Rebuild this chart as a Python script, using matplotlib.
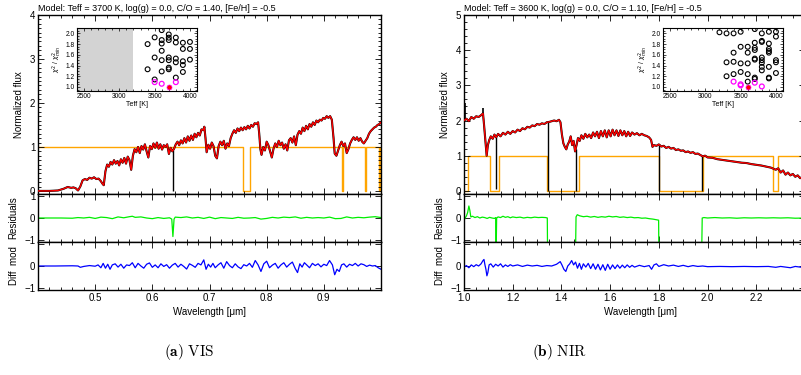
import numpy as np
import matplotlib
matplotlib.use("Agg")
import matplotlib.pyplot as plt
from matplotlib.ticker import MultipleLocator, FuncFormatter

plt.rcParams['font.family'] = ['Liberation Sans', 'DejaVu Sans']
plt.rcParams['mathtext.fontset'] = 'dejavusans'

# ---------------- VIS data ----------------
vis_title = "Model: Teff = 3700 K, log(g) = 0.0, C/O = 1.40, [Fe/H] = -0.5"
vis_wave = [0.400, 0.420, 0.435, 0.445, 0.452, 0.458, 0.462, 0.466, 0.470, 0.474,
            0.478, 0.482, 0.486, 0.490, 0.494, 0.498, 0.502, 0.506, 0.510, 0.513,
            0.515, 0.518, 0.521, 0.524, 0.527, 0.530, 0.533, 0.536, 0.539, 0.542,
            0.545, 0.548, 0.551, 0.554, 0.557, 0.560, 0.563, 0.566, 0.569, 0.572,
            0.575, 0.578, 0.581, 0.584, 0.587, 0.590, 0.593, 0.596, 0.599, 0.602,
            0.605, 0.608, 0.611, 0.614, 0.617, 0.620, 0.623, 0.626, 0.629, 0.632,
            0.635, 0.638, 0.641, 0.644, 0.647, 0.650, 0.653, 0.656, 0.659, 0.662,
            0.665, 0.668, 0.671, 0.674, 0.677, 0.680, 0.683, 0.686, 0.689, 0.691,
            0.693, 0.695, 0.698, 0.701, 0.704, 0.707, 0.710, 0.713, 0.716, 0.719,
            0.722, 0.725, 0.728, 0.731, 0.734, 0.737, 0.740, 0.743, 0.746, 0.749,
            0.752, 0.755, 0.758, 0.761, 0.764, 0.767, 0.770, 0.773, 0.776, 0.779,
            0.782, 0.785, 0.787, 0.789, 0.791, 0.794, 0.797, 0.800, 0.803, 0.806,
            0.809, 0.812, 0.815, 0.818, 0.821, 0.824, 0.827, 0.830, 0.833, 0.836,
            0.839, 0.842, 0.845, 0.848, 0.851, 0.854, 0.857, 0.860, 0.863, 0.866,
            0.869, 0.872, 0.875, 0.878, 0.881, 0.884, 0.887, 0.890, 0.893, 0.896,
            0.899, 0.902, 0.905, 0.908, 0.911, 0.914, 0.917, 0.919, 0.922, 0.925,
            0.928, 0.931, 0.934, 0.937, 0.940, 0.943, 0.946, 0.949, 0.952, 0.955,
            0.958, 0.961, 0.964, 0.967, 0.970, 0.973, 0.976, 0.979, 0.982, 0.985,
            0.988, 0.991, 0.994, 0.997, 1.000]
vis_model = [0.00, 0.00, 0.01, 0.05, 0.09, 0.07, 0.08, 0.06, 0.01, 0.10,
             0.24, 0.27, 0.25, 0.30, 0.28, 0.31, 0.27, 0.28, 0.22, 0.16,
             0.13, 0.45, 0.60, 0.55, 0.66, 0.60, 0.70, 0.62, 0.68, 0.58,
             0.72, 0.64, 0.75, 0.62, 0.78, 0.70, 0.48, 0.80, 0.95, 0.88,
             1.00, 0.86, 1.02, 0.94, 1.06, 0.90, 0.76, 1.02, 0.95, 1.08,
             0.98, 1.10, 0.96, 1.06, 0.94, 1.04, 1.00, 1.06, 0.84, 0.98,
             0.90, 0.96, 1.06, 1.12, 1.04, 1.15, 1.08, 1.20, 1.10, 1.24,
             1.14, 1.26, 1.16, 1.30, 1.22, 1.32, 1.26, 1.40, 1.38, 1.46,
             1.20, 0.88, 1.05, 0.96, 1.10, 1.02, 0.80, 0.74, 1.02, 1.12,
             1.04, 1.14, 0.96, 1.08, 1.02, 1.20, 1.30, 1.38, 1.32, 1.42,
             1.36, 1.44, 1.38, 1.45, 1.40, 1.48, 1.42, 1.50, 1.46, 1.54,
             1.52, 1.56, 1.30, 0.95, 0.82, 1.00, 0.92, 1.12, 1.04, 0.90,
             0.76, 0.96, 1.08, 1.00, 1.14, 1.04, 1.10, 0.96, 1.06, 0.92,
             1.15, 1.20, 1.10, 1.24, 1.04, 1.28, 1.36, 1.30, 1.44, 1.36,
             1.48, 1.40, 1.52, 1.46, 1.56, 1.50, 1.60, 1.56, 1.62, 1.60,
             1.66, 1.64, 1.70, 1.66, 1.70, 1.62, 1.20, 0.85, 0.80, 0.92,
             1.04, 1.12, 1.02, 1.08, 0.86, 0.95, 1.08, 1.16, 1.22, 1.16,
             1.22, 1.14, 1.20, 1.12, 1.08, 1.14, 1.20, 1.30, 1.36, 1.40,
             1.44, 1.46, 1.50, 1.52, 1.56]
vis_gap_wave = [0.636]
vis_mask_edges = [0.400, 0.759, 0.770, 0.932, 0.934, 0.972, 0.974, 0.996, 0.998, 1.000]
vis_mask_vals = [1, 0, 1, 0, 1, 0, 1, 0, 1, 1]

vis_res_wave = [0.40, 0.42, 0.44, 0.46, 0.47, 0.48, 0.49, 0.50, 0.51, 0.52,
                0.53, 0.54, 0.55, 0.56, 0.565, 0.57, 0.58, 0.59, 0.60, 0.61,
                0.62, 0.63, 0.634, 0.636, 0.638, 0.64, 0.65, 0.66, 0.67, 0.68,
                0.69, 0.70, 0.71, 0.72, 0.73, 0.74, 0.75, 0.76, 0.77, 0.78,
                0.79, 0.80, 0.81, 0.82, 0.83, 0.84, 0.85, 0.86, 0.87, 0.88,
                0.89, 0.90, 0.91, 0.92, 0.93, 0.94, 0.95, 0.96, 0.97, 0.98,
                0.99, 1.00]
vis_res = [0.00, 0.00, 0.00, -0.01, 0.02, 0.00, 0.03, -0.02, 0.04, 0.02,
           -0.03, 0.05, 0.01, 0.06, 0.08, 0.03, 0.05, 0.00, -0.03, 0.02,
           -0.02, 0.01, -0.05, -0.85, -0.05, 0.04, 0.02, 0.05, 0.00, 0.03,
           -0.02, 0.04, -0.03, 0.02, 0.00, -0.02, 0.03, -0.01, 0.00, 0.02,
           -0.05, -0.02, 0.03, 0.00, 0.04, 0.02, 0.05, -0.01, 0.03, 0.00,
           0.02, 0.00, 0.04, -0.03, -0.02, 0.05, 0.00, 0.03, 0.01, 0.04,
           0.06, 0.02]

vis_diff_wave = [0.400, 0.430, 0.460, 0.470, 0.474, 0.480, 0.490, 0.500, 0.505, 0.510,
                 0.514, 0.518, 0.522, 0.526, 0.530, 0.535, 0.540, 0.545, 0.550, 0.555,
                 0.560, 0.565, 0.570, 0.575, 0.580, 0.585, 0.590, 0.595, 0.600, 0.605,
                 0.610, 0.615, 0.620, 0.625, 0.630, 0.635, 0.640, 0.645, 0.650, 0.655,
                 0.660, 0.665, 0.670, 0.675, 0.680, 0.685, 0.690, 0.694, 0.698, 0.702,
                 0.706, 0.710, 0.715, 0.720, 0.725, 0.730, 0.735, 0.740, 0.745, 0.750,
                 0.755, 0.760, 0.765, 0.770, 0.775, 0.780, 0.785, 0.790, 0.795, 0.800,
                 0.805, 0.810, 0.815, 0.820, 0.825, 0.830, 0.835, 0.840, 0.845, 0.850,
                 0.854, 0.858, 0.862, 0.866, 0.870, 0.875, 0.880, 0.885, 0.890, 0.895,
                 0.900, 0.905, 0.910, 0.915, 0.919, 0.923, 0.927, 0.931, 0.935, 0.940,
                 0.945, 0.950, 0.955, 0.960, 0.965, 0.970, 0.975, 0.980, 0.985, 0.990,
                 0.995, 1.000]
vis_diff = [0.00, 0.00, 0.01, 0.00, -0.06, -0.02, 0.02, -0.01, 0.05, -0.08,
            0.12, -0.10, 0.08, -0.15, 0.05, 0.10, -0.05, 0.08, -0.10, 0.05,
            0.02, 0.15, -0.08, 0.12, 0.00, -0.10, 0.08, 0.14, -0.06, 0.05,
            -0.08, 0.10, -0.02, 0.06, -0.10, 0.04, 0.12, -0.05, 0.08, -0.02,
            -0.14, 0.10, 0.03, -0.06, 0.12, 0.05, 0.28, -0.15, 0.08, -0.05,
            0.12, -0.08, 0.05, 0.15, -0.10, 0.20, 0.02, -0.08, 0.10, -0.04,
            -0.12, 0.06, 0.00, 0.12, -0.06, 0.25, 0.05, -0.25, 0.10, 0.22,
            -0.08, 0.04, 0.12, -0.10, 0.05, 0.15, -0.05, 0.08, 0.18, -0.12,
            -0.30, 0.10, -0.05, 0.15, 0.05, -0.08, 0.12, 0.02, 0.10, -0.04,
            0.08, 0.02, 0.25, 0.05, -0.40, -0.15, -0.25, 0.05, 0.10, -0.05,
            0.08, 0.02, 0.12, 0.00, 0.10, 0.06, -0.02, 0.04, 0.00, 0.02,
            -0.08, -0.15]

# chi2 grid of the VIS fit
vis_grid_teff = [3400, 3400, 3500, 3500, 3500, 3600, 3600, 3600, 3600, 3600, 3600,
                 3700, 3700, 3700, 3700, 3700, 3700, 3700, 3800, 3800, 3800, 3800, 3800,
                 3900, 3900, 3900, 3900, 3900, 4000, 4000, 4000]
vis_grid_chi = [1.80, 1.33, 1.925, 1.55, 1.14, 2.06, 1.875, 1.81, 1.675, 1.50, 1.29,
                1.98, 1.92, 1.875, 1.55, 1.50, 1.36, 1.33, 1.92, 1.83, 1.53, 1.46, 1.175,
                1.825, 1.71, 1.48, 1.41, 1.28, 1.84, 1.71, 1.51]
vis_good_teff = [3500, 3600, 3800]
vis_good_chi = [1.09, 1.06, 1.09]
vis_best = (3700, 1.00)
vis_shade_max = 3200

# ---------------- NIR data ----------------
nir_title = "Model: Teff = 3600 K, log(g) = 0.0, C/O = 1.10, [Fe/H] = -0.5"
nir_wave = [1.000, 1.010, 1.020, 1.030, 1.040, 1.050, 1.060, 1.070, 1.078, 1.082,
            1.088, 1.093, 1.098, 1.104, 1.110, 1.118, 1.125, 1.132, 1.140, 1.150,
            1.160, 1.170, 1.180, 1.190, 1.200, 1.210, 1.220, 1.230, 1.240, 1.250,
            1.260, 1.270, 1.280, 1.290, 1.300, 1.310, 1.320, 1.330, 1.340, 1.350,
            1.360, 1.370, 1.380, 1.390, 1.396, 1.402, 1.408, 1.414, 1.420, 1.426,
            1.432, 1.438, 1.444, 1.450, 1.456, 1.462, 1.468, 1.475, 1.482, 1.490,
            1.498, 1.506, 1.514, 1.522, 1.530, 1.538, 1.546, 1.554, 1.562, 1.570,
            1.578, 1.586, 1.594, 1.602, 1.610, 1.618, 1.626, 1.634, 1.642, 1.650,
            1.658, 1.666, 1.674, 1.682, 1.690, 1.700, 1.710, 1.720, 1.730, 1.740,
            1.750, 1.760, 1.768, 1.774, 1.780, 1.790, 1.800, 1.810, 1.820, 1.830,
            1.840, 1.850, 1.860, 1.870, 1.880, 1.890, 1.900, 1.910, 1.920, 1.930,
            1.940, 1.950, 1.960, 1.970, 1.980, 1.990, 2.000, 2.020, 2.040, 2.060,
            2.080, 2.100, 2.120, 2.140, 2.160, 2.180, 2.200, 2.220, 2.240, 2.260,
            2.280, 2.290, 2.300, 2.310, 2.320, 2.330, 2.340, 2.350, 2.360, 2.370,
            2.380, 2.390, 2.400]
nir_model = [2.00, 2.05, 1.98, 2.10, 2.05, 2.12, 2.10, 2.15, 2.20, 1.90,
             1.40, 1.00, 1.30, 1.45, 1.55, 1.48, 1.60, 1.52, 1.62, 1.55,
             1.65, 1.60, 1.68, 1.62, 1.70, 1.66, 1.74, 1.70, 1.78, 1.75,
             1.82, 1.80, 1.86, 1.84, 1.90, 1.88, 1.92, 1.90, 1.95, 1.96,
             1.98, 2.00, 1.98, 2.02, 1.95, 1.60, 1.35, 1.25, 1.18, 1.32,
             1.40, 1.55, 1.30, 1.42, 1.12, 1.30, 1.50, 1.42, 1.58, 1.48,
             1.62, 1.52, 1.60, 1.50, 1.66, 1.55, 1.68, 1.50, 1.70, 1.55,
             1.72, 1.52, 1.72, 1.55, 1.74, 1.58, 1.72, 1.56, 1.72, 1.58,
             1.70, 1.55, 1.68, 1.56, 1.66, 1.60, 1.64, 1.58, 1.62, 1.58,
             1.56, 1.52, 1.45, 1.25, 1.30, 1.28, 1.32, 1.26, 1.28, 1.22,
             1.25, 1.20, 1.22, 1.16, 1.18, 1.14, 1.15, 1.10, 1.12, 1.08,
             1.10, 1.05, 1.06, 1.02, 0.98, 1.00, 0.95, 0.94, 0.90, 0.88,
             0.86, 0.84, 0.82, 0.80, 0.79, 0.76, 0.74, 0.72, 0.69, 0.66,
             0.60, 0.64, 0.52, 0.58, 0.46, 0.52, 0.44, 0.48, 0.40, 0.44,
             0.36, 0.40, 0.35]
nir_gap_wave = [1.132, 1.343, 1.458, 1.800, 1.979]
nir_gap_low = [0.06, 0.0, 0.0, 0.0, 0.0]
nir_spike_wave = [1.006, 1.078]
nir_spike_top = [2.50, 2.35]
nir_mask_edges = [1.000, 1.015, 1.107, 1.145, 1.342, 1.474, 1.801, 1.982, 2.267, 2.288, 2.400]
nir_mask_vals = [0, 1, 0, 1, 0, 1, 0, 1, 0, 1, 1]

nir_res_wave = [1.000, 1.005, 1.010, 1.015, 1.020, 1.024, 1.028, 1.035, 1.045, 1.055,
                1.065, 1.075, 1.085, 1.095, 1.105, 1.115, 1.125, 1.130, 1.132, 1.134,
                1.140, 1.150, 1.160, 1.170, 1.180, 1.190, 1.200, 1.215, 1.230, 1.245,
                1.260, 1.275, 1.290, 1.305, 1.320, 1.335, 1.342, 1.343, 1.458, 1.460,
                1.465, 1.475, 1.490, 1.505, 1.520, 1.535, 1.550, 1.565, 1.580, 1.595,
                1.610, 1.625, 1.640, 1.655, 1.670, 1.685, 1.700, 1.715, 1.730, 1.745,
                1.760, 1.775, 1.790, 1.799, 1.800, 1.976, 1.978, 1.985, 2.000, 2.030,
                2.060, 2.090, 2.120, 2.150, 2.180, 2.210, 2.240, 2.270, 2.300, 2.330,
                2.360, 2.400]
nir_res = [-0.10, 0.00, 0.10, 0.25, 0.55, 0.35, 0.05, 0.08, 0.02, 0.06,
           0.00, 0.04, 0.02, -0.02, 0.03, 0.00, -0.02, 0.02, -1.50, 0.00,
           0.05, 0.02, 0.08, 0.03, 0.06, 0.01, 0.05, 0.02, 0.04, 0.00,
           0.03, 0.01, 0.04, 0.02, 0.03, 0.02, 0.00, -1.50, -1.50, 0.05,
           0.15, 0.10, 0.06, 0.08, 0.04, 0.07, 0.03, 0.06, 0.04, 0.08,
           0.05, 0.07, 0.03, 0.05, 0.02, 0.04, 0.01, 0.02, -0.01, 0.00,
           -0.03, -0.05, -0.08, -0.10, -1.50, -1.50, 0.00, 0.02, 0.00, 0.02,
           0.00, 0.01, -0.01, 0.01, 0.00, 0.01, 0.00, 0.01, 0.00, 0.01,
           -0.01, 0.00]

nir_diff_wave = [1.000, 1.010, 1.020, 1.030, 1.040, 1.050, 1.060, 1.070, 1.078, 1.082,
                 1.086, 1.090, 1.094, 1.098, 1.103, 1.110, 1.120, 1.130, 1.140, 1.150,
                 1.160, 1.170, 1.180, 1.190, 1.200, 1.220, 1.240, 1.260, 1.280, 1.300,
                 1.320, 1.340, 1.360, 1.380, 1.395, 1.402, 1.410, 1.418, 1.426, 1.434,
                 1.442, 1.450, 1.458, 1.466, 1.474, 1.482, 1.490, 1.500, 1.510, 1.520,
                 1.530, 1.540, 1.550, 1.560, 1.570, 1.580, 1.590, 1.600, 1.610, 1.620,
                 1.630, 1.640, 1.650, 1.660, 1.670, 1.680, 1.690, 1.700, 1.720, 1.740,
                 1.760, 1.770, 1.780, 1.790, 1.800, 1.820, 1.840, 1.860, 1.880, 1.900,
                 1.920, 1.940, 1.960, 1.980, 2.000, 2.050, 2.100, 2.150, 2.200, 2.250,
                 2.280, 2.300, 2.340, 2.360, 2.400]
nir_diff = [-0.05, 0.02, -0.08, 0.05, -0.03, 0.06, 0.00, 0.10, 0.25, 0.30,
            0.05, -0.15, -0.45, -0.30, 0.05, 0.10, -0.05, 0.08, 0.00, 0.10,
            -0.05, 0.05, -0.02, 0.06, 0.00, 0.05, -0.02, 0.04, 0.00, 0.03,
            -0.02, 0.02, 0.00, 0.08, 0.20, 0.05, -0.15, -0.25, 0.00, 0.10,
            0.25, 0.05, 0.18, -0.10, 0.12, -0.15, 0.10, -0.05, 0.12, -0.12,
            0.10, -0.15, 0.08, -0.18, 0.06, -0.20, 0.08, -0.15, 0.05, -0.12,
            0.05, -0.10, 0.04, -0.08, 0.05, -0.06, 0.03, -0.05, 0.03, -0.03,
            0.02, -0.15, 0.05, 0.10, -0.02, 0.06, 0.00, 0.04, -0.02, 0.03,
            -0.03, 0.02, -0.02, 0.00, -0.03, -0.02, -0.03, -0.02, -0.03, -0.02,
            -0.06, -0.02, -0.08, -0.02, -0.08]

nir_grid_teff = [3200, 3300, 3300, 3300, 3400, 3400, 3400, 3400, 3500, 3500, 3500, 3500,
                 3600, 3600, 3600, 3600, 3600, 3700, 3700, 3700, 3700, 3700, 3700, 3700, 3700,
                 3800, 3800, 3800, 3800, 3800, 3800, 3800, 3800,
                 3900, 3900, 3900, 3900, 3900, 3900, 3900, 3900,
                 4000, 4000, 4000, 4000, 4000]
nir_grid_chi = [2.02, 2.00, 1.46, 1.20, 2.00, 1.64, 1.47, 1.24, 2.03, 1.75, 1.44, 1.28,
                1.75, 1.64, 1.44, 1.24, 1.10, 2.08, 1.825, 1.73, 1.69, 1.53, 1.51, 1.175, 1.15,
                2.00, 1.86, 1.84, 1.55, 1.50, 1.45, 1.375, 1.31,
                2.03, 1.81, 1.71, 1.67, 1.64, 1.375, 1.175, 1.16,
                2.03, 1.94, 1.50, 1.46, 1.26]
nir_good_teff = [3400, 3500, 3500, 3700, 3800]
nir_good_chi = [1.10, 1.05, 1.03, 1.08, 1.01]
nir_best = (3600, 1.00)

# ---------------- figure ----------------
fig = plt.figure(figsize=(8.01, 3.75), dpi=100)
W, H = 801.0, 375.0


def box(x0, x1, ytop, ybot):
    return [x0 / W, 1 - ybot / H, (x1 - x0) / W, (ybot - ytop) / H]


def style(ax, fs=7):
    ax.tick_params(which='both', direction='in', top=True, right=True,
                   labelsize=fs, width=0.6, pad=2)
    ax.tick_params(which='major', length=4)
    ax.tick_params(which='minor', length=2)
    for s in ax.spines.values():
        s.set_linewidth(1.0)


def panel(x0, x1, xlim, xmaj, xmin, xlabels, ylim_main, ymaj, ymin, d, xlab_pos=0.5):
    ax1 = fig.add_axes(box(x0, x1, 15, 194))
    ax2 = fig.add_axes(box(x0, x1, 194, 242))
    ax3 = fig.add_axes(box(x0, x1, 242, 290))

    ax1.step(d['mask_x'], d['mask_y'], where='post', color='#FFA500', lw=1.0, zorder=1)
    ax1.plot(d['wave'], d['model'], color='black', lw=1.5, zorder=2)
    top = np.interp(d['gap_x'], d['wave'], d['model'])
    ax1.vlines(d['gap_x'], d['gap_low'], top, color='black', lw=1.0, zorder=2)
    if d.get('spike_x'):
        low = np.interp(d['spike_x'], d['wave'], d['model'])
        ax1.vlines(d['spike_x'], low, d['spike_top'], color='black', lw=1.2, zorder=2)
    ax1.plot(d['wave'], d['model'], color='red', lw=1.0, zorder=3)
    ax1.set_ylim(*ylim_main)
    ax1.yaxis.set_major_locator(MultipleLocator(ymaj))
    ax1.yaxis.set_minor_locator(MultipleLocator(ymin))
    ax1.yaxis.set_major_formatter(FuncFormatter(lambda v, p: '%d' % round(v)))
    ax1.set_ylabel('Normalized flux', fontsize=7, labelpad=4)
    ax1.text(0.0, 1.012, d['title'], transform=ax1.transAxes, fontsize=6.5,
             ha='left', va='bottom')

    ax2.plot(d['res_x'], d['res'], color='#00EE00', lw=0.9)
    ax2.set_ylim(-1.1, 1.1)
    ax2.set_ylabel('Residuals', fontsize=7, labelpad=4)

    ax3.plot(d['diff_x'], d['diff'], color='#0000FF', lw=0.9)
    ax3.set_ylim(-1.1, 1.1)
    ax3.set_ylabel('Diff  mod', fontsize=7, labelpad=4)
    ax3.set_xlabel('Wavelength [\u03bcm]', fontsize=7, labelpad=1)
    ax3.xaxis.set_label_coords(xlab_pos, -0.36)

    for ax in (ax1, ax2, ax3):
        ax.set_xlim(*xlim)
        ax.xaxis.set_major_locator(MultipleLocator(xmaj))
        ax.xaxis.set_minor_locator(MultipleLocator(xmin))
        style(ax)
    ax3.xaxis.set_major_formatter(
        FuncFormatter(lambda v, p: ('%.1f' % v) if round(v, 2) in xlabels else ''))
    ax2.set_yticks([-1, 0, 1])
    ax2.set_yticklabels(['\u22121', '0', '1'])
    ax3.set_yticks([-1, 0, 1])
    ax3.set_yticklabels(['\u22121', '0', ''])
    ax1.tick_params(labelbottom=False)
    ax2.tick_params(labelbottom=False)
    return ax1


def inset(x0, x1, d):
    ax = fig.add_axes(box(x0, x1, 28, 91))
    if d.get('shade'):
        ax.axvspan(2400, d['shade'], color='#D3D3D3', lw=0, zorder=0)
    ax.scatter(d['gx'], d['gy'], s=12, facecolors='none', edgecolors='black', lw=0.8, zorder=2)
    ax.scatter(d['mx'], d['my'], s=12, facecolors='none', edgecolors='#FF00FF', lw=0.9, zorder=3)
    ax.scatter([d['best'][0]], [d['best'][1]], s=13, color='red', edgecolors='#FF00FF',
               lw=0.5, zorder=4)
    ax.set_xlim(2400, 4100)
    ax.set_ylim(0.925, 2.1)
    ax.set_xticks([2500, 3000, 3500, 4000])
    ax.xaxis.set_minor_locator(MultipleLocator(100))
    ax.set_yticks([1.0, 1.2, 1.4, 1.6, 1.8, 2.0])
    ax.yaxis.set_minor_locator(MultipleLocator(0.05))
    ax.tick_params(which='both', direction='in', top=True, right=True,
                   labelsize=4.8, width=0.5, pad=1.5)
    ax.tick_params(which='major', length=2.5)
    ax.tick_params(which='minor', length=1.2)
    ax.set_xlabel('Teff [K]', fontsize=5, labelpad=0.5)
    ax.set_ylabel(r'$\chi^2$ / $\chi^2_{min}$', fontsize=4.8, labelpad=1.5)
    for s in ax.spines.values():
        s.set_linewidth(0.8)


vis = dict(title=vis_title, wave=vis_wave, model=vis_model, gap_x=vis_gap_wave,
           gap_low=[0.0], mask_x=vis_mask_edges, mask_y=vis_mask_vals,
           res_x=vis_res_wave, res=vis_res, diff_x=vis_diff_wave, diff=vis_diff)
nir = dict(title=nir_title, wave=nir_wave, model=nir_model, gap_x=nir_gap_wave,
           gap_low=nir_gap_low, spike_x=nir_spike_wave, spike_top=nir_spike_top,
           mask_x=nir_mask_edges, mask_y=nir_mask_vals,
           res_x=nir_res_wave, res=nir_res, diff_x=nir_diff_wave, diff=nir_diff)

panel(38, 381, (0.40, 1.00), 0.1, 0.02, [0.5, 0.6, 0.7, 0.8, 0.9],
      (-0.07, 4.0), 1, 0.1, vis)
panel(464, 805, (1.0, 2.4), 0.2, 0.05, [1.0, 1.2, 1.4, 1.6, 1.8, 2.0, 2.2],
      (-0.09, 5.0), 1, 0.2, nir, xlab_pos=(640 - 464) / 341.0)

inset(77, 197, dict(gx=vis_grid_teff, gy=vis_grid_chi, mx=vis_good_teff, my=vis_good_chi,
                    best=vis_best, shade=vis_shade_max))
inset(663, 783, dict(gx=nir_grid_teff, gy=nir_grid_chi, mx=nir_good_teff, my=nir_good_chi,
                     best=nir_best))

fig.text(189 / W, 1 - 352 / H, r'$\mathbf{(a)}\ \mathrm{VIS}$', fontsize=11,
         ha='center', va='center', math_fontfamily='cm')
fig.text(560 / W, 1 - 352 / H, r'$\mathbf{(b)}\ \mathrm{NIR}$', fontsize=11,
         ha='center', va='center', math_fontfamily='cm')

fig.savefig('out.png', dpi=100)
